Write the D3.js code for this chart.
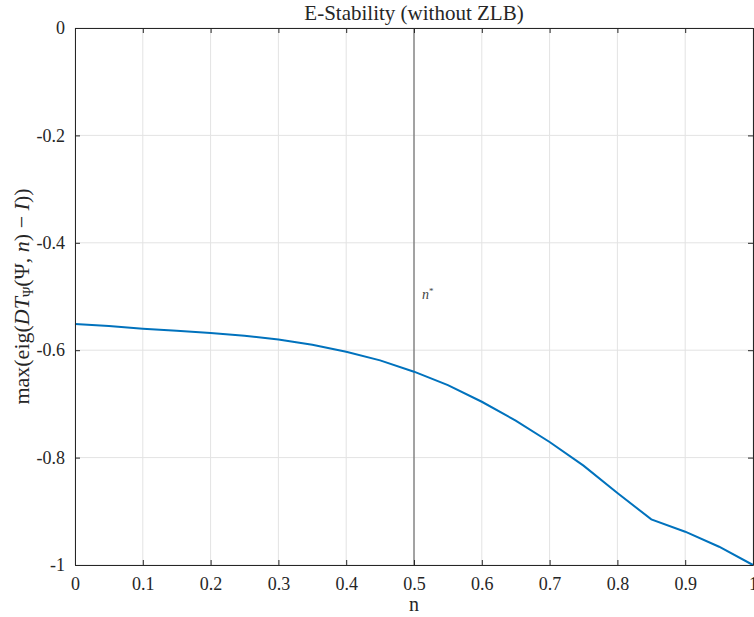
<!DOCTYPE html>
<html>
<head>
<meta charset="utf-8">
<script src="https://cdn.jsdelivr.net/npm/d3@7"></script>
<style>
  body { margin: 0; background: #fff; }
  svg text { font-family: "Liberation Serif", "DejaVu Serif", serif; fill: #262626; }
</style>
</head>
<body>
<div class="viewport"></div>
<script>
// data
var nValues = [0, 0.05, 0.1, 0.15, 0.2, 0.25, 0.3, 0.35, 0.4, 0.45, 0.5,
               0.55, 0.6, 0.65, 0.7, 0.75, 0.8, 0.85, 0.9, 0.95, 1.0];
var maxEig = [-0.551, -0.555, -0.560, -0.564, -0.568, -0.573, -0.580, -0.590, -0.603, -0.619, -0.640,
              -0.665, -0.696, -0.731, -0.771, -0.815, -0.866, -0.915, -0.938, -0.966, -1.0];
var xTicks = [0, 0.1, 0.2, 0.3, 0.4, 0.5, 0.6, 0.7, 0.8, 0.9, 1];
var yTicks = [0, -0.2, -0.4, -0.6, -0.8, -1];
var nStar = 0.5;

function letsGo() {
    var width = 754,
        height = 617;
    var margin = {left: 75, right: 1, top: 28, bottom: 52};
    var w = width - margin.left - margin.right,
        h = height - margin.top - margin.bottom;

    var svg = d3.select(".viewport").append("svg")
        .attr("width", width)
        .attr("height", height);

    var g = svg.append("g")
        .attr("transform", "translate(" + margin.left + "," + margin.top + ")");

    var x = d3.scaleLinear().domain([0, 1]).range([0, w]);
    var y = d3.scaleLinear().domain([-1, 0]).range([h, 0]);

    // grid
    g.selectAll(".xgrid").data(xTicks).enter().append("line")
        .attr("x1", function(d) { return x(d); })
        .attr("x2", function(d) { return x(d); })
        .attr("y1", 0).attr("y2", h)
        .attr("stroke", "#e3e3e3").attr("stroke-width", 1);
    g.selectAll(".ygrid").data(yTicks).enter().append("line")
        .attr("y1", function(d) { return y(d); })
        .attr("y2", function(d) { return y(d); })
        .attr("x1", 0).attr("x2", w)
        .attr("stroke", "#e3e3e3").attr("stroke-width", 1);

    // n* line
    g.append("line")
        .attr("x1", x(nStar)).attr("x2", x(nStar))
        .attr("y1", 0).attr("y2", h)
        .attr("stroke", "#555").attr("stroke-width", 1);
    g.append("text")
        .attr("x", x(nStar) + 8).attr("y", y(-0.505))
        .attr("font-size", 14).attr("font-style", "italic")
        .style("fill", "#444")
        .text("n")
        .append("tspan").attr("dy", -5).attr("font-size", 9).attr("font-style", "normal").text("*");

    // curve
    var line = d3.line()
        .x(function(d, i) { return x(nValues[i]); })
        .y(function(d) { return y(d); });
    g.append("path")
        .datum(maxEig)
        .attr("d", line)
        .attr("fill", "none")
        .attr("stroke", "#0072BD")
        .attr("stroke-width", 2);

    // axes (ticks inside, box on) - MATLAB uses a plain hyphen for minus
    var fmt = function(d) { return String(d); };
    g.append("g").attr("transform", "translate(0," + h + ")")
        .call(d3.axisBottom(x).tickValues(xTicks).tickSizeInner(-5).tickSizeOuter(0).tickPadding(12)
            .tickFormat(fmt));
    g.append("g")
        .call(d3.axisLeft(y).tickValues(yTicks).tickSizeInner(-5).tickSizeOuter(0).tickPadding(10)
            .tickFormat(fmt));
    g.append("g")
        .call(d3.axisTop(x).tickValues(xTicks).tickSizeInner(-5).tickSizeOuter(0).tickFormat(""));
    g.append("g").attr("transform", "translate(" + w + ",0)")
        .call(d3.axisRight(y).tickValues(yTicks).tickSizeInner(-5).tickSizeOuter(0).tickFormat(""));

    svg.selectAll(".domain").attr("stroke", "#262626");
    svg.selectAll(".tick line").attr("stroke", "#262626");
    svg.selectAll(".tick text")
        .attr("font-family", "Liberation Serif, DejaVu Serif, serif")
        .attr("font-size", 18).style("fill", "#262626");

    // title and labels
    svg.append("text")
        .attr("x", margin.left + w / 2).attr("y", 20)
        .attr("text-anchor", "middle").attr("font-size", 21)
        .text("E-Stability (without ZLB)");

    svg.append("text")
        .attr("x", margin.left + w / 2).attr("y", 611)
        .attr("text-anchor", "middle").attr("font-size", 20)
        .text("n");

    var yl = svg.append("text")
        .attr("transform", "translate(29," + (margin.top + y(-0.5)) + ") rotate(-90)")
        .attr("text-anchor", "middle").attr("font-size", 22);
    yl.append("tspan").text("max(eig(");
    yl.append("tspan").attr("font-style", "italic").text("DT");
    yl.append("tspan").attr("font-size", 14).attr("dy", 4).text("Ψ");
    yl.append("tspan").attr("dy", -4).text("(Ψ, ");
    yl.append("tspan").attr("font-style", "italic").text("n");
    yl.append("tspan").text(")  −  ");
    yl.append("tspan").attr("font-style", "italic").text("I");
    yl.append("tspan").text("))");
}

letsGo();
</script>
</body>
</html>
